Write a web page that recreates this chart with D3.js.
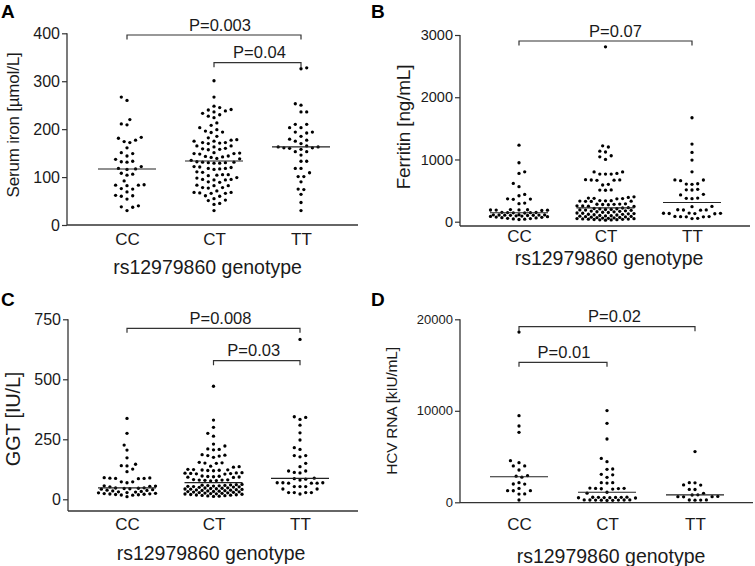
<!DOCTYPE html>
<html><head><meta charset="utf-8">
<script src="https://cdn.jsdelivr.net/npm/d3@7/dist/d3.min.js"></script>
<style>
body{margin:0;background:#fff}
svg{display:block}
text{font-family:"Liberation Sans",Arial,Helvetica,sans-serif;fill:#1a1a1a}
</style>
</head><body>
<svg id="chart" width="755" height="566"></svg>
<script>
// ---------------- DATA ----------------
const genotypes = ["CC", "CT", "TT"];
const xTitle = "rs12979860 genotype";

// Panel A: Serum iron [µmol/L]
const ironCC = [267, 260, 220, 211, 209, 183, 181, 177, 174, 172, 161, 151, 149, 144, 137, 133, 132, 131, 122, 118, 116, 117, 108, 106, 104, 92, 84, 83, 83, 82, 76, 75, 69, 62, 61, 60, 54, 40, 38, 37, 30];
const ironCT = [301, 267, 248, 245, 241, 238, 240, 236, 230, 233, 227, 224, 213, 208, 203, 199, 196, 194, 193, 185, 182, 178, 177, 175, 175, 172, 172, 170, 171, 165, 163, 165, 160, 158, 159, 157, 151, 149, 150, 149, 148, 144, 142, 143, 141, 139, 138, 135, 130, 131, 129, 130, 132, 129, 131, 122, 120, 121, 118, 117, 116, 118, 111, 110, 105, 104, 103, 105, 99, 98, 94, 95, 95, 94, 89, 90, 82, 83, 82, 78, 78, 77, 71, 68, 66, 67, 68, 66, 60, 61, 52, 51, 55, 45, 43, 30];
const ironTT = [328, 326, 253, 250, 236, 236, 210, 210, 203, 203, 194, 194, 192, 185, 179, 177, 175, 170, 165, 163, 163, 161, 161, 160, 158, 153, 153, 146, 133, 133, 118, 118, 109, 101, 101, 90, 75, 74, 64, 47, 30];
const ironTicks = [0, 100, 200, 300, 400];
const ironP = [{from: "CC", to: "TT", label: "P=0.003"}, {from: "CT", to: "TT", label: "P=0.04"}];

// Panel B: Ferritin [ng/mL]
const ferritinCC = [1230, 947, 802, 776, 615, 562, 439, 417, 364, 360, 368, 290, 300, 195, 188, 185, 190, 180, 192, 186, 150, 145, 140, 148, 142, 146, 110, 105, 108, 100, 112, 104, 106, 102, 109, 95, 90, 85, 80, 75, 65, 60, 70, 55, 50, 45, 40, 35];
const ferritinCT = [2810, 1220, 1200, 1134, 1120, 1060, 1043, 1000, 800, 800, 775, 765, 765, 765, 672, 668, 670, 665, 675, 600, 590, 508, 510, 505, 400,
  390, 375, 372, 380, 368, 335, 330, 338, 326, 332, 340, 328, 280, 276, 284, 272, 288, 279, 250, 255, 246, 252, 225, 220,
  212, 208, 205, 198, 196, 190, 186, 182, 175, 170, 166, 160, 158, 152, 148, 140, 136, 130, 126, 120, 118, 112, 108, 100, 96, 92, 88, 84, 80, 76, 72, 68, 64, 60, 58, 55, 50, 48, 45, 42, 40, 38, 35, 32, 30, 28, 25];
const ferritinTT = [1670, 1247, 1113, 990, 802, 670, 660, 672, 600, 605, 610, 509, 512, 520, 440, 430, 375, 380, 370, 241, 245, 188, 190, 185, 192, 134, 130, 138, 132, 136, 128, 80, 82, 78, 85, 79, 54, 50];
const ferritinTicks = [0, 1000, 2000, 3000];
const ferritinP = [{from: "CC", to: "TT", label: "P=0.07"}];

// Panel C: GGT [IU/L]
const ggtCC = [337, 275, 226, 205, 173, 146, 140, 139, 126, 115, 90, 89, 88, 87, 87, 86, 73, 73, 69, 56, 55, 54, 52, 48, 47, 46, 45, 44, 42, 40, 38, 37, 35, 33, 31, 30, 28, 27, 25, 24, 23, 22, 21, 20, 19, 18, 17, 11];
const ggtCT = [471, 330, 300, 275, 263, 230, 222, 210, 208, 206, 186, 184, 182, 180, 175, 154, 152, 150, 151, 138, 136, 134,
  124, 122, 121, 123, 120, 125, 119, 110, 108, 107, 109, 106, 111, 105, 96, 94, 93, 95, 92, 97, 91, 82, 80, 79, 81, 78, 80, 77,
  62, 60, 59, 57, 56, 55, 54, 53, 52, 50, 48, 47, 46, 45, 44, 42, 41, 40, 39, 38, 36, 35, 34, 33, 32, 31, 30, 29, 28, 27, 26, 25, 24, 23, 22, 21, 20, 19, 18, 17, 16, 15, 14, 13, 12, 61, 58, 51, 43, 37];
const ggtTT = [666, 344, 341, 333, 309, 277, 247, 215, 208, 182, 182, 177, 150, 136, 118, 112, 118, 110, 88, 86, 84, 80, 69, 67, 69, 67, 69, 67, 53, 53, 53, 43, 43, 28, 28, 28, 28, 22];
const ggtTicks = [0, 250, 500, 750];
const ggtP = [{from: "CC", to: "TT", label: "P=0.008"}, {from: "CT", to: "TT", label: "P=0.03"}];

// Panel D: HCV RNA [kIU/mL]
const hcvCC = [18600, 9470, 8340, 7650, 4550, 4330, 3970, 3970, 3530, 2910, 2850, 2750, 2150, 2000, 1990, 1520, 1270, 1270, 1260, 910, 900, 250];
const hcvCT = [10020, 8630, 6920, 4800, 4440, 3640, 3600, 3060, 3000, 2730, 2150, 2150, 2100, 1550, 1530, 1520, 1500, 1480, 1450, 1100, 1000, 560, 540, 520, 550, 530, 510, 540, 500, 470, 260, 250, 240, 230, 220, 250, 260, 210, 240];
const hcvTT = [5540, 2150, 2130, 1900, 1880, 1410, 1400, 980, 820, 800, 640, 620, 610, 600, 250, 240, 260, 230];
const hcvTicks = [0, 10000, 20000];
const hcvP = [{from: "CC", to: "TT", label: "P=0.02"}, {from: "CC", to: "CT", label: "P=0.01"}];

// ---------------- LAYOUT ----------------
const panels = [
  {letter: "A", yLabel: "Serum iron [µmol/L]", groups: [ironCC, ironCT, ironTT], ticks: ironTicks, pvals: ironP,
   L: {x0: 67, x1: 358, cat: [127, 301], y: [225, 33.3], axisY: 225, letter: [1, 18], yLab: [13, 125], yLabFs: 17,
       tickFs: 16, catY: 245, catFs: 17, title: [207.5, 273.5], br: [35, 62.7], pdx: [6, 2]}},
  {letter: "B", yLabel: "Ferritin [ng/mL]", groups: [ferritinCC, ferritinCT, ferritinTT], ticks: ferritinTicks, pvals: ferritinP,
   L: {x0: 460, x1: 750, cat: [519, 692], y: [221.7, 35], axisY: 226, letter: [371, 18], yLab: [403, 127], yLabFs: 19,
       tickFs: 14.5, catY: 241.5, catFs: 17, title: [609, 264.5], br: [41], pdx: [10]}},
  {letter: "C", yLabel: "GGT [IU/L]", groups: [ggtCC, ggtCT, ggtTT], ticks: ggtTicks, pvals: ggtP,
   L: {x0: 68, x1: 358, cat: [127, 300], y: [499.3, 319.3], axisY: 511, letter: [1, 306], yLab: [13, 419], yLabFs: 20,
       tickFs: 16, catY: 530, catFs: 17, title: [211, 559.5], br: [328.3, 360.7], pdx: [7, -3]}},
  {letter: "D", yLabel: "HCV RNA [kIU/mL]", groups: [hcvCC, hcvCT, hcvTT], ticks: hcvTicks, pvals: hcvP,
   L: {x0: 460, x1: 753, cat: [519, 695], y: [502.3, 319.3], axisY: 502.7, letter: [371, 306], yLab: [392, 411], yLabFs: 15.5,
       tickFs: 13, catY: 530, catFs: 17, title: [611, 563], br: [326.7, 362.3], pdx: [7.5, 1]}}
];

const svg = d3.select("#chart");
const R = 1.65, MIN_D = 5.5, STEP = 2.85, MAXW = 30, HALF_MED = 29, TICK_DOWN = 4.5;

function swarm(values, y, cx) {
  const pts = values.map(v => ({v, py: y(v)})).sort((a, b) => b.py - a.py);
  const placed = [];
  const kMax = Math.floor(MAXW / STEP);
  let pref = 1;
  for (const p of pts) {
    const near = placed.filter(q => Math.abs(q.py - p.py) < MIN_D);
    let off = null, bestOff = 0, bestScore = -1;
    for (let k = 0; k <= kMax && off === null; k++) {
      const cands = k === 0 ? [0] : [pref * k * STEP, -pref * k * STEP];
      for (const c of cands) {
        let md = Infinity;
        for (const q of near) md = Math.min(md, Math.hypot(q.off - c, q.py - p.py));
        if (md >= MIN_D) { off = c; break; }
        if (md > bestScore + 0.05) { bestScore = md; bestOff = c; }
      }
    }
    if (off === null) off = bestOff;
    if (off !== 0) pref = off > 0 ? -1 : 1;
    p.off = off; p.px = cx + off;
    placed.push(p);
  }
  return placed;
}

panels.forEach(P => {
  const L = P.L;
  const g = svg.append("g");
  const y = d3.scaleLinear().domain([0, d3.max(P.ticks)]).range(L.y);
  const x = d3.scalePoint().domain(genotypes).range(L.cat);

  g.append("text").attr("x", L.letter[0]).attr("y", L.letter[1]).attr("font-size", 19).attr("font-weight", "bold")
    .style("fill", "#000").text(P.letter);

  const yAxis = d3.axisLeft(y).tickValues(P.ticks).tickSize(5).tickSizeOuter(0).tickPadding(2).tickFormat(d3.format("d"));
  const ya = g.append("g").attr("transform", `translate(${L.x0},0)`).call(yAxis);
  ya.select(".domain").remove();
  ya.selectAll("line").attr("stroke", "#333").attr("stroke-width", 1.2);
  ya.selectAll("text").attr("font-size", L.tickFs).style("fill", "#1a1a1a").attr("font-family", null);
  g.append("line").attr("x1", L.x0).attr("x2", L.x0).attr("y1", y(d3.max(P.ticks))).attr("y2", L.axisY)
    .attr("stroke", "#333").attr("stroke-width", 1.3);
  g.append("line").attr("x1", L.x0).attr("x2", L.x1).attr("y1", L.axisY).attr("y2", L.axisY)
    .attr("stroke", "#333").attr("stroke-width", 1.3);

  const xAxis = d3.axisBottom(x).tickSize(0).tickPadding(0);
  const xa = g.append("g").attr("transform", `translate(0,${L.axisY})`).call(xAxis);
  xa.select(".domain").remove();
  xa.selectAll("text").attr("y", L.catY - L.axisY).attr("dy", null).attr("font-size", L.catFs)
    .style("fill", "#1a1a1a").attr("font-family", null);

  g.append("text").attr("x", L.title[0]).attr("y", L.title[1]).attr("text-anchor", "middle").attr("font-size", 19.5)
    .text(xTitle);
  g.append("text").attr("transform", `translate(${L.yLab[0]},${L.yLab[1]}) rotate(-90)`).attr("text-anchor", "middle")
    .attr("dy", "0.35em").attr("font-size", L.yLabFs).attr("letter-spacing", -0.2).text(P.yLabel);

  P.groups.forEach((vals, i) => {
    const cx = x(genotypes[i]);
    const pts = swarm(vals, y, cx);
    g.append("g").selectAll("circle").data(pts).join("circle")
      .attr("cx", d => d.px).attr("cy", d => d.py).attr("r", R).attr("fill", "#000");
    const med = d3.median(vals);
    g.append("line").attr("x1", cx - HALF_MED).attr("x2", cx + HALF_MED).attr("y1", y(med)).attr("y2", y(med))
      .attr("stroke", "#222").attr("stroke-width", 1.1);
  });

  P.pvals.forEach((pv, j) => {
    const by = L.br[j];
    const xa1 = x(pv.from), xa2 = x(pv.to);
    g.append("path").attr("d", `M${xa1},${by + TICK_DOWN}V${by}H${xa2}V${by + TICK_DOWN}`)
      .attr("fill", "none").attr("stroke", "#333").attr("stroke-width", 1.2);
    g.append("text").attr("x", (xa1 + xa2) / 2 + L.pdx[j]).attr("y", by - 4.5).attr("text-anchor", "middle")
      .attr("font-size", 16.5).text(pv.label);
  });
});
</script>
</body></html>
